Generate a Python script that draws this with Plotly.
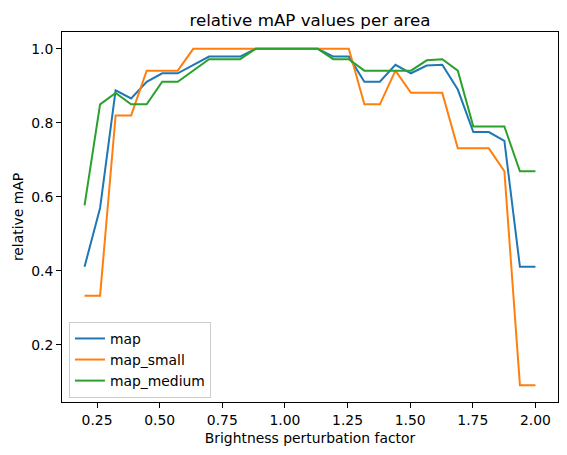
import plotly.graph_objects as go

brightness = [0.2, 0.262, 0.324, 0.386, 0.448, 0.510, 0.572, 0.634, 0.697, 0.759,
              0.821, 0.883, 0.945, 1.007, 1.069, 1.131, 1.193, 1.255, 1.317, 1.379,
              1.441, 1.503, 1.566, 1.628, 1.690, 1.752, 1.814, 1.876, 1.938, 2.0]

map_all = [0.411, 0.570, 0.888, 0.866, 0.911, 0.934, 0.934, 0.956, 0.979, 0.979,
           0.979, 1.0, 1.0, 1.0, 1.0, 1.0, 0.979, 0.979, 0.911, 0.911,
           0.957, 0.934, 0.955, 0.957, 0.890, 0.775, 0.775, 0.751, 0.411, 0.411]

map_small = [0.333, 0.333, 0.820, 0.820, 0.941, 0.941, 0.941, 1.0, 1.0, 1.0,
             1.0, 1.0, 1.0, 1.0, 1.0, 1.0, 1.0, 1.0, 0.850, 0.850,
             0.941, 0.881, 0.881, 0.881, 0.731, 0.731, 0.731, 0.669, 0.091, 0.091]

map_medium = [0.577, 0.850, 0.881, 0.850, 0.850, 0.911, 0.911, 0.941, 0.972, 0.972,
              0.972, 1.0, 1.0, 1.0, 1.0, 1.0, 0.972, 0.972, 0.941, 0.941,
              0.941, 0.941, 0.969, 0.972, 0.941, 0.790, 0.790, 0.790, 0.669, 0.669]

series_names = ["map", "map_small", "map_medium"]
series_colors = ["#1f77b4", "#ff7f0e", "#2ca02c"]
x_ticks = [0.25, 0.50, 0.75, 1.00, 1.25, 1.50, 1.75, 2.00]
y_ticks = [0.2, 0.4, 0.6, 0.8, 1.0]

FONT = "DejaVu Sans"

fig = go.Figure()
for name, vals, col in zip(series_names, [map_all, map_small, map_medium], series_colors):
    fig.add_trace(go.Scatter(x=brightness, y=vals, mode="lines", name=name,
                             line=dict(color=col, width=2)))

axis_common = dict(showline=True, mirror=True, linecolor="black", linewidth=1,
                   ticks="outside", ticklen=5, tickwidth=1, tickcolor="black",
                   showgrid=False, zeroline=False, automargin=False,
                   tickfont=dict(family=FONT, size=13.9, color="black"))

fig.update_layout(
    width=567, height=455,
    margin=dict(l=61.5, r=9.3, t=32.3, b=52.7, autoexpand=False),
    paper_bgcolor="white", plot_bgcolor="white",
    font=dict(family=FONT, size=13.9, color="black"),
    title=dict(text="relative mAP values per area", x=0.5, xanchor="center",
               xref="paper", y=1, yref="paper", yanchor="bottom",
               pad=dict(b=6), font=dict(family=FONT, size=16.7, color="black")),
    xaxis=dict(range=[0.11, 2.09], tickvals=x_ticks,
               ticktext=[f"{v:.2f}" for v in x_ticks],
               title=dict(text="Brightness perturbation factor", standoff=6,
                          font=dict(family=FONT, size=13.9)),
               **axis_common),
    yaxis=dict(range=[0.0455, 1.0455], tickvals=y_ticks,
               ticktext=[f"{v:.1f}" for v in y_ticks],
               title=dict(text="relative mAP", standoff=4,
                          font=dict(family=FONT, size=13.9)),
               **axis_common),
    legend=dict(x=0.014, y=0.011, xanchor="left", yanchor="bottom",
                bgcolor="rgba(255,255,255,0.8)", bordercolor="#cccccc", borderwidth=1,
                font=dict(family=FONT, size=13.9), itemwidth=30,
                tracegroupgap=0),
    showlegend=True,
)

fig.write_html("out.html", config={"displayModeBar": False},
               post_script="document.body.style.margin='0';document.body.style.overflow='hidden';")
